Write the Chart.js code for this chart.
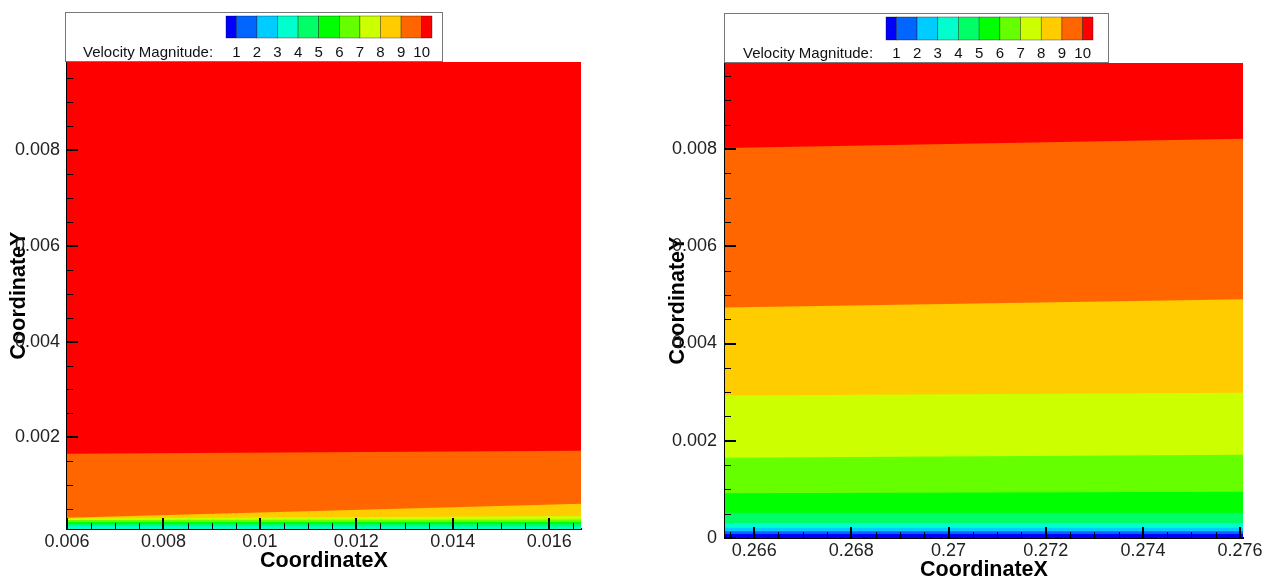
<!DOCTYPE html>
<html><head><meta charset="utf-8">
<script src="https://cdn.jsdelivr.net/npm/chart.js@4.4.1/dist/chart.umd.min.js"></script>
<style>
html,body{margin:0;padding:0;background:#fff;}
#wrap{position:relative;width:1266px;height:581px;overflow:hidden;background:#fff;}
canvas{position:absolute;top:0;}
</style></head><body>
<div id="wrap">
<canvas id="leftChart" width="633" height="581" style="left:0px"></canvas>
<canvas id="rightChart" width="633" height="581" style="left:633px"></canvas>
</div>
<script>
// ---- Contour legend ----
const legendLevels = [1, 2, 3, 4, 5, 6, 7, 8, 9, 10];
const bandColors = ['#0000ff','#0066ff','#00ccff','#00ffcc','#00ff66','#00ff00','#66ff00','#ccff00','#ffcc00','#ff6600','#ff0000'];

// ---- Left panel ----
const leftXRange = [0.006, 0.01666];
const leftYRange = [0.000085, 0.00984];
const leftLevels = [4, 5, 6, 7, 8, 9, 10];
const leftLevelYAtXmin = [0.000149, 0.00019, 0.000232, 0.000274, 0.000305, 0.00032, 0.001655];
const leftLevelYAtXmax = [0.000138, 0.00019, 0.000232, 0.000285, 0.000358, 0.00061, 0.00172];
const leftXTicks = [0.006, 0.008, 0.01, 0.012, 0.014, 0.016];
const leftYTicks = [0.002, 0.004, 0.006, 0.008];

// ---- Right panel ----
const rightXRange = [0.2654, 0.27606];
const rightYRange = [0, 0.00977];
const rightLevels = [1, 2, 3, 4, 5, 6, 7, 8, 9, 10];
const rightLevelYAtXmin = [0.00008, 0.00014, 0.00021, 0.00031, 0.00052, 0.00092, 0.00165, 0.00293, 0.00474, 0.00802];
const rightLevelYAtXmax = [0.00008, 0.00014, 0.00021, 0.00031, 0.00052, 0.00095, 0.00171, 0.00299, 0.00491, 0.00821];
const rightXTicks = [0.266, 0.268, 0.27, 0.272, 0.274, 0.276];
const rightYTicks = [0, 0.002, 0.004, 0.006, 0.008];

const FONT = "'Liberation Sans', Arial, Helvetica, sans-serif";
const fmt = v => String(Number(Number(v).toPrecision(6)));

function buildDatasets(xr, yr, levels, y0, y1) {
  const ds = [];
  levels.forEach((L, i) => {
    ds.push({
      data: [{x: xr[0], y: y0[i]}, {x: xr[1], y: y1[i]}],
      backgroundColor: bandColors[L - 1],
      borderColor: 'rgba(0,0,0,0)', borderWidth: 1,
      pointRadius: 0, tension: 0, fill: 'start'
    });
  });
  ds.push({
    data: [{x: xr[0], y: yr[1]}, {x: xr[1], y: yr[1]}],
    backgroundColor: bandColors[levels[levels.length - 1]],
    borderColor: 'rgba(0,0,0,0)', borderWidth: 1,
    pointRadius: 0, tension: 0, fill: 'start'
  });
  return ds;
}

const inwardTicks = {
  id: 'inwardTicks',
  afterDatasetsDraw(chart) {
    const {ctx, chartArea: a} = chart;
    const x = chart.scales.x, y = chart.scales.y;
    const step = 0.0005;
    ctx.save();
    ctx.strokeStyle = '#000';
    const seg = (x1, y1, x2, y2) => { ctx.beginPath(); ctx.moveTo(x1, y1); ctx.lineTo(x2, y2); ctx.stroke(); };
    ctx.lineWidth = 1;
    for (let k = Math.ceil(x.min / step - 1e-6); k * step <= x.max + 1e-9; k++) {
      const px = Math.round(x.getPixelForValue(k * step)) + 0.5;
      seg(px, a.bottom, px, a.bottom - 6);
    }
    for (let k = Math.ceil(y.min / step - 1e-6); k * step <= y.max + 1e-9; k++) {
      const py = Math.round(y.getPixelForValue(k * step)) + 0.5;
      seg(a.left, py, a.left + 6, py);
    }
    ctx.lineWidth = 2;
    x.ticks.forEach(t => { const px = Math.round(x.getPixelForValue(t.value)); seg(px, a.bottom, px, a.bottom - 11); });
    y.ticks.forEach(t => { const py = Math.round(y.getPixelForValue(t.value)); seg(a.left, py, a.left + 11, py); });
    ctx.restore();
  }
};

const colorLegend = {
  id: 'colorLegend',
  afterDraw(chart, args, o) {
    const ctx = chart.ctx;
    ctx.save();
    ctx.fillStyle = '#fff';
    ctx.fillRect(o.box[0], o.box[1], o.box[2], o.box[3]);
    ctx.strokeStyle = '#777';
    ctx.lineWidth = 1;
    ctx.strokeRect(o.box[0] + 0.5, o.box[1] + 0.5, o.box[2], o.box[3]);
    const [bx, by, bw, bh] = o.bar;
    const full = bw / 10, half = full / 2;
    bandColors.forEach((c, i) => {
      const x0 = i === 0 ? bx : bx + half + (i - 1) * full;
      const w = (i === 0 || i === bandColors.length - 1) ? half : full;
      ctx.fillStyle = c;
      ctx.fillRect(x0, by, w, bh);
      ctx.strokeStyle = 'rgba(0,0,0,0.55)';
      ctx.lineWidth = 0.6;
      ctx.strokeRect(x0, by, w, bh);
    });
    ctx.fillStyle = '#111';
    ctx.font = '15px ' + FONT;
    ctx.textBaseline = 'middle';
    ctx.textAlign = 'center';
    legendLevels.forEach((L, i) => ctx.fillText(String(L), bx + half + i * full, o.textY));
    ctx.textAlign = 'left';
    ctx.fillText('Velocity Magnitude:', o.textX, o.textY);
    ctx.restore();
  }
};

function makeChart(id, cfg) {
  return new Chart(document.getElementById(id), {
    type: 'line',
    data: { datasets: buildDatasets(cfg.xr, cfg.yr, cfg.levels, cfg.y0, cfg.y1) },
    options: {
      responsive: false, animation: false,
      layout: { padding: { top: cfg.padTop, right: cfg.padRight, left: 0, bottom: 0 } },
      plugins: {
        legend: { display: false }, tooltip: { enabled: false },
        colorLegend: cfg.legend
      },
      scales: {
        x: {
          type: 'linear', min: cfg.xr[0], max: cfg.xr[1],
          afterBuildTicks: s => { s.ticks = cfg.xTicks.map(v => ({value: v})); },
          afterFit: s => { s.height = cfg.xAxisH; },
          ticks: { autoSkip: false, maxRotation: 0, padding: 2, color: '#222', font: { family: FONT, size: 18 }, callback: v => fmt(v) },
          grid: { display: false, drawTicks: false },
          border: { display: true, color: '#000', width: 2 },
          title: { display: true, text: 'CoordinateX', color: '#000', font: { family: FONT, size: 21.5, weight: 'bold', lineHeight: 1 }, padding: { top: 0, bottom: cfg.xTitlePad } }
        },
        y: {
          type: 'linear', min: cfg.yr[0], max: cfg.yr[1],
          afterBuildTicks: s => { s.ticks = cfg.yTicks.map(v => ({value: v})); },
          afterFit: s => { s.width = cfg.yAxisW; },
          ticks: { autoSkip: false, padding: cfg.yTickPad, color: '#222', font: { family: FONT, size: 18 }, callback: v => fmt(v) },
          grid: { display: false, drawTicks: false },
          border: { display: true, color: '#000', width: 2 },
          title: { display: true, text: 'CoordinateY', color: '#000', font: { family: FONT, size: 21.5, weight: 'bold', lineHeight: 1 }, padding: { top: cfg.yTitlePad, bottom: 0 } }
        }
      }
    },
    plugins: [inwardTicks, colorLegend]
  });
}

makeChart('leftChart', {
  xr: leftXRange, yr: leftYRange, levels: leftLevels, y0: leftLevelYAtXmin, y1: leftLevelYAtXmax,
  xTicks: leftXTicks, yTicks: leftYTicks,
  padTop: 62, padRight: 52, xAxisH: 52, yAxisW: 67, yTickPad: 7, xTitlePad: 9, yTitlePad: 8,
  legend: { box: [65, 12, 377, 49], bar: [226, 16, 206, 22], textX: 83, textY: 53 }
});

makeChart('rightChart', {
  xr: rightXRange, yr: rightYRange, levels: rightLevels, y0: rightLevelYAtXmin, y1: rightLevelYAtXmax,
  xTicks: rightXTicks, yTicks: rightYTicks,
  padTop: 63, padRight: 23, xAxisH: 43, yAxisW: 92, yTickPad: 8, xTitlePad: 0, yTitlePad: 34,
  legend: { box: [91, 13, 384, 49], bar: [253, 17, 207, 23], textX: 110, textY: 54 }
});
</script>
</body></html>
